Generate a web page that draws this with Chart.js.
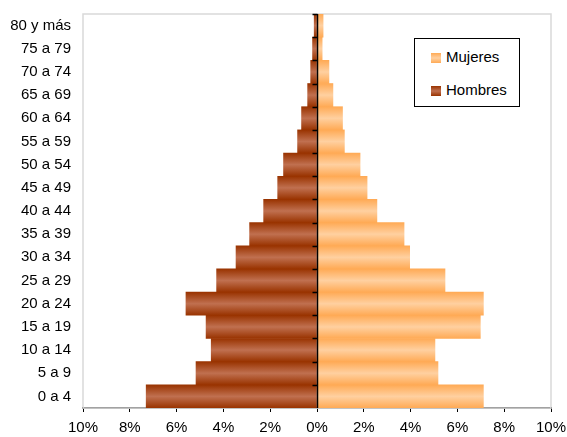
<!DOCTYPE html>
<html>
<head>
<meta charset="utf-8">
<script src="https://cdn.jsdelivr.net/npm/chart.js@4"></script>
<style>
  body { margin: 0; background: #fff; }
  #wrap { position: relative; width: 567px; height: 437px; }
  #leyenda {
    position: absolute; left: 414px; top: 38px; width: 104px; height: 67px;
    border: 1px solid #000; background: #fff;
    font-family: "Liberation Sans", Arial, sans-serif; font-size: 15px; color: #000;
  }
  .item { position: absolute; left: 16px; height: 18px; line-height: 18px; }
  .item span { display: inline-block; width: 10px; height: 10px; margin-right: 5px; vertical-align: -1px; }
</style>
</head>
<body>
<div id="wrap">
  <canvas id="piramide" width="567" height="437"></canvas>
  <div id="leyenda">
    <div class="item" style="top:9px"><span style="background:linear-gradient(#ffaa55,#ffd0a0,#ffaa55)"></span>Mujeres</div>
    <div class="item" style="top:42px"><span style="background:linear-gradient(#993300,#c07050,#993300)"></span>Hombres</div>
  </div>
</div>
<script>
// grupos de edad, de abajo hacia arriba
var edades = ["0 a 4","5 a 9","10 a 14","15 a 19","20 a 24","25 a 29","30 a 34","35 a 39",
  "40 a 44","45 a 49","50 a 54","55 a 59","60 a 64","65 a 69","70 a 74","75 a 79","80 y más"];

// porcentajes
var hombres = [7.3, 5.17, 4.52, 4.74, 5.6, 4.29, 3.46, 2.88, 2.28, 1.68, 1.43, 0.83, 0.66, 0.40, 0.27, 0.19, 0.12];
var mujeres = [7.11, 5.17, 5.04, 6.98, 7.11, 5.47, 3.96, 3.72, 2.56, 2.14, 1.84, 1.17, 1.09, 0.68, 0.51, 0.22, 0.26];

var ticksX = [-10, -8, -6, -4, -2, 0, 2, 4, 6, 8, 10];

function degradado(borde, centro) {
  return function (context) {
    const chart = context.chart;
    const area = chart.chartArea;
    if (!area || !chart.scales.y) return borde;
    const yc = chart.scales.y.getPixelForValue(context.dataIndex);
    const h = (area.bottom - area.top) / edades.length;
    const g = chart.ctx.createLinearGradient(0, yc - h / 2, 0, yc + h / 2);
    g.addColorStop(0, borde);
    g.addColorStop(0.5, centro);
    g.addColorStop(1, borde);
    return g;
  };
}

// marco gris del area y linea del cero con sus marcas
const marco = {
  id: "marco",
  beforeDatasetsDraw(chart) {
    const a = chart.chartArea, c = chart.ctx;
    c.save();
    c.strokeStyle = "#d9d9d9";
    c.lineWidth = 1.5;
    c.strokeRect(a.left, a.top, a.right - a.left, a.bottom - a.top);
    c.restore();
  },
  afterDatasetsDraw(chart) {
    const a = chart.chartArea, c = chart.ctx;
    const x0 = Math.round(chart.scales.x.getPixelForValue(0)) + 0.5;
    const h = (a.bottom - a.top) / edades.length;
    c.save();
    c.strokeStyle = "#000";
    c.lineWidth = 1.5;
    c.beginPath();
    c.moveTo(x0, a.top);
    c.lineTo(x0, a.bottom);
    for (let i = 0; i < edades.length; i++) {
      const y = Math.round(a.top + i * h) + 0.5;
      c.moveTo(x0 - 5, y);
      c.lineTo(x0, y);
    }
    c.stroke();
    c.restore();
  }
};

new Chart(document.getElementById("piramide"), {
  type: "bar",
  data: {
    labels: edades,
    datasets: [
      {
        label: "Hombres",
        data: hombres.map(v => -v),
        backgroundColor: degradado("#993300", "#c07050"),
        borderWidth: 0
      },
      {
        label: "Mujeres",
        data: mujeres,
        backgroundColor: degradado("#ffaa55", "#ffd0a0"),
        borderWidth: 0
      }
    ]
  },
  plugins: [marco],
  options: {
    indexAxis: "y",
    responsive: false,
    animation: false,
    barPercentage: 1,
    categoryPercentage: 1,
    layout: { autoPadding: false, padding: { top: 14, right: 16, left: 0, bottom: 0 } },
    plugins: {
      legend: { display: false },
      tooltip: { enabled: false }
    },
    scales: {
      x: {
        stacked: true,
        min: -10,
        max: 10,
        afterBuildTicks: s => { s.ticks = ticksX.map(v => ({ value: v })); },
        afterFit: s => { s.height = 29; s.paddingLeft = 0; s.paddingRight = 0; },
        ticks: {
          callback: v => Math.abs(v) + "%",
          color: "#000",
          padding: 7,
          maxRotation: 0,
          font: { family: "Liberation Sans", size: 15 }
        },
        grid: {
          drawOnChartArea: false,
          drawTicks: true,
          tickLength: 4,
          tickColor: "#000"
        },
        border: { display: true, color: "#000", width: 1.5 }
      },
      y: {
        stacked: true,
        reverse: true,
        afterFit: s => { s.width = 83; s.paddingTop = 0; s.paddingBottom = 0; },
        ticks: {
          color: "#000",
          padding: 12,
          font: { family: "Liberation Sans", size: 15 }
        },
        grid: { display: false, drawTicks: false },
        border: { display: false }
      }
    }
  }
});
</script>
</body>
</html>
